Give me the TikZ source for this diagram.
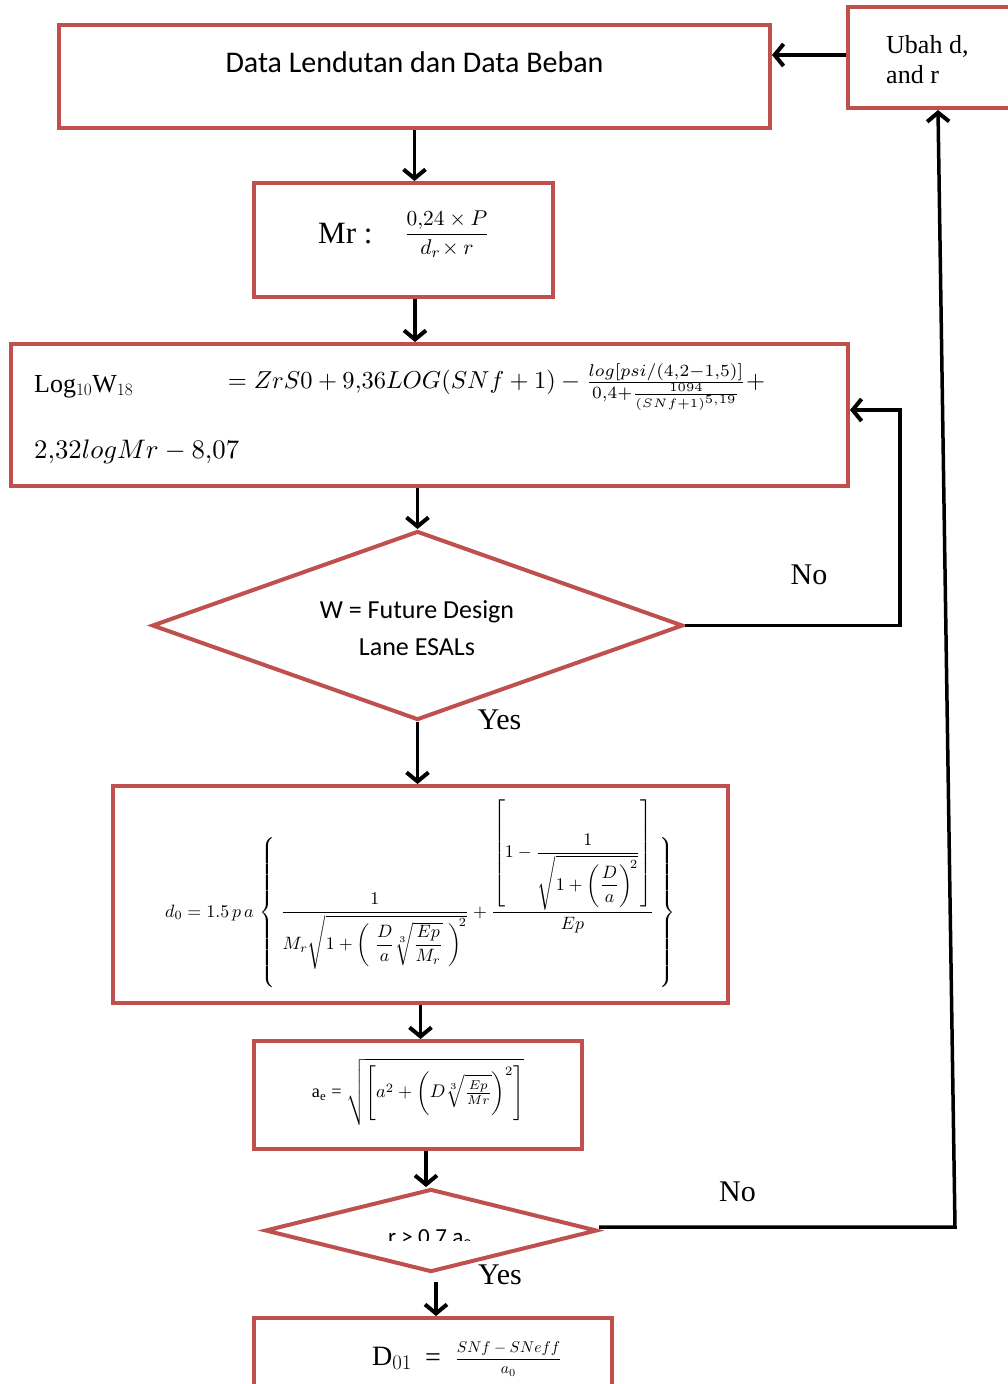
\documentclass[tikz,border=0pt]{standalone}
\usepackage{fontspec}
\usepackage{amsmath}
\setmainfont{Liberation Serif}
\newfontfamily\calib{Carlito}
\usetikzlibrary{arrows.meta,shapes.geometric}
\definecolor{boxred}{RGB}{192,80,77}
\newcommand\fixdelim[3]{\left#1\vcenter{\hbox{\rule{0pt}{#3}}}\right#2}
\begin{document}
\begin{tikzpicture}[x=1pt,y=-1pt,
  box/.style={draw=boxred,line width=4pt,inner sep=0pt,fill=white},
  dia/.style={draw=boxred,line width=4pt,inner sep=0pt,diamond,fill=white},
  conn/.style={line width=3.5pt,-{Straight Barb[length=9pt,width=22pt,line width=4pt]}},
  lbl/.style={font=\fontsize{30}{34}\selectfont,inner sep=0pt},
  txt/.style={inner sep=0pt}]
\clip (0,0) rectangle (1008,1384);
\fill[white] (0,0) rectangle (1008,1384);
% boxes
\node[box,minimum width=711pt,minimum height=103pt] (b1) at (414.5,76.5) {};
\node[box,minimum width=299pt,minimum height=114pt] (b2) at (403.5,240) {};
\node[box,minimum width=837pt,minimum height=142pt] (b3) at (429.5,415) {};
\node[dia,minimum width=531pt,minimum height=189pt] (d1) at (417.5,625.5) {};
\node[box,minimum width=615pt,minimum height=217pt] (b4) at (420.5,894.5) {};
\node[box,minimum width=328pt,minimum height=108pt] (b5) at (418,1095) {};
\node[dia,minimum width=332pt,minimum height=83pt] (d2) at (431,1230.5) {};
\node[box,minimum width=358pt,minimum height=140pt] (b6) at (433,1388) {};
\node[box,minimum width=200pt,minimum height=101pt] (ub) at (948,57.5) {};
% texts
\node[txt,anchor=base,font=\calib\fontsize{30}{36}\selectfont] (t1) at (414.5,72) {Data Lendutan dan Data Beban};
\node[txt,anchor=base west,font=\fontsize{31}{36}\selectfont] (t2a) at (318,243) {Mr :};
\node[txt] (t2b) at (447,234) {\resizebox{86pt}{!}{$\dfrac{0{,}24\times P}{d_r\!\times r}$}};
\node[txt,anchor=base west,font=\fontsize{26}{30}\selectfont] (t3a) at (34,392) {Log$_{10}$W$_{18}$};
\node[txt] (t3b) at (496.5,387) {\resizebox{537pt}{!}{$=ZrS0+9{,}36LOG(SNf+1)-\frac{log[psi/(4{,}2-1{,}5)]}{0{,}4+\frac{1094}{(SNf+1)^{5{,}19}}}+$}};
\node[txt,anchor=west] (t3c) at (34,452) {\resizebox{205pt}{!}{$2{,}32logMr-8{,}07$}};
\node[txt,align=center,font=\calib\fontsize{26}{37}\selectfont] (t4) at (417,628) {W = Future Design\\Lane ESALs};
\node[txt,anchor=base west] (t5) at (165,917) {\resizebox{510pt}{!}{$\displaystyle d_0 = 1.5\,p\,a\,\fixdelim\{.{84pt}\dfrac{1}{M_r\sqrt{1+\fixdelim(.{26pt}\dfrac{D}{a}\sqrt[3]{\dfrac{Ep}{M_r}}\fixdelim.){26pt}^{\!2}}}+\dfrac{\left[1-\dfrac{1}{\sqrt{1+\left(\dfrac{D}{a}\right)^{\!2}}}\right]}{Ep}\fixdelim.\}{84pt}$}};
\node[txt] (t6) at (418,1092) {\resizebox{212pt}{!}{a$_{\mathrm{e}}$ = $\sqrt{\left[a^2+\left(D\sqrt[3]{\frac{Ep}{Mr}}\right)^2\right]}$}};
\begin{scope}
\clip (380,1215) rectangle (480,1240);
\node[txt,anchor=base,font=\calib\fontsize{23}{27}\selectfont] (t7) at (430,1244) {r > 0.7 a$_{\text{e}}$};
\end{scope}
\node[txt,anchor=base west,font=\fontsize{28}{32}\selectfont] (t8a) at (372,1365) {D$_{01}$};
\node[txt,anchor=base west,font=\fontsize{28}{32}\selectfont] (t8b) at (425,1366) {=};
\node[txt] (t8c) at (508.5,1359) {\resizebox{107pt}{!}{$\dfrac{SNf-SNeff}{a_0}$}};
\node[txt,anchor=base west,font=\fontsize{26}{30}\selectfont] (u1) at (886,53) {Ubah d,};
\node[txt,anchor=base west,font=\fontsize{26}{30}\selectfont] (u2) at (886,83) {and r};
% labels
\node[lbl,anchor=base] (no1) at (809,584) {No};
\node[lbl,anchor=base] (yes1) at (499.5,729) {Yes};
\node[lbl,anchor=base] (no2) at (737.5,1201) {No};
\node[lbl,anchor=base] (yes2) at (500,1284) {Yes};
% connectors
\draw[conn] (b1.south) -- (b1.south |- b2.north);
\draw[conn] ([xshift=11.5pt]b2.south) -- ([xshift=11.5pt]b2.south |- b3.north);
\draw[conn] (d1.north |- b3.south) -- (d1.north);
\draw[conn] (d1.south) -- (d1.south |- b4.north);
\draw[conn] (b4.south) -- (b4.south |- b5.north);
\draw[conn] ([xshift=-5pt]d2.north |- b5.south) -- ([xshift=-5pt]d2.north);
\draw[conn] ([xshift=5pt,yshift=-8pt]d2.south) -- ([xshift=5pt]d2.south |- b6.north);
\coordinate (n1) at (900,625.5);
\coordinate (n2) at (900,410);
\draw[conn] (d1.east) -- (n1) -- (n2) -- (n2 -| b3.east);
\coordinate (m1) at (955,1227);
\coordinate (m2) at (938,110);
\draw[conn] (d2.east |- m1) -- (m1) -- (m2);
\draw[conn] ([yshift=2.5pt]ub.west) -- ([yshift=2.5pt]ub.west -| b1.east);
\end{tikzpicture}
\end{document}
